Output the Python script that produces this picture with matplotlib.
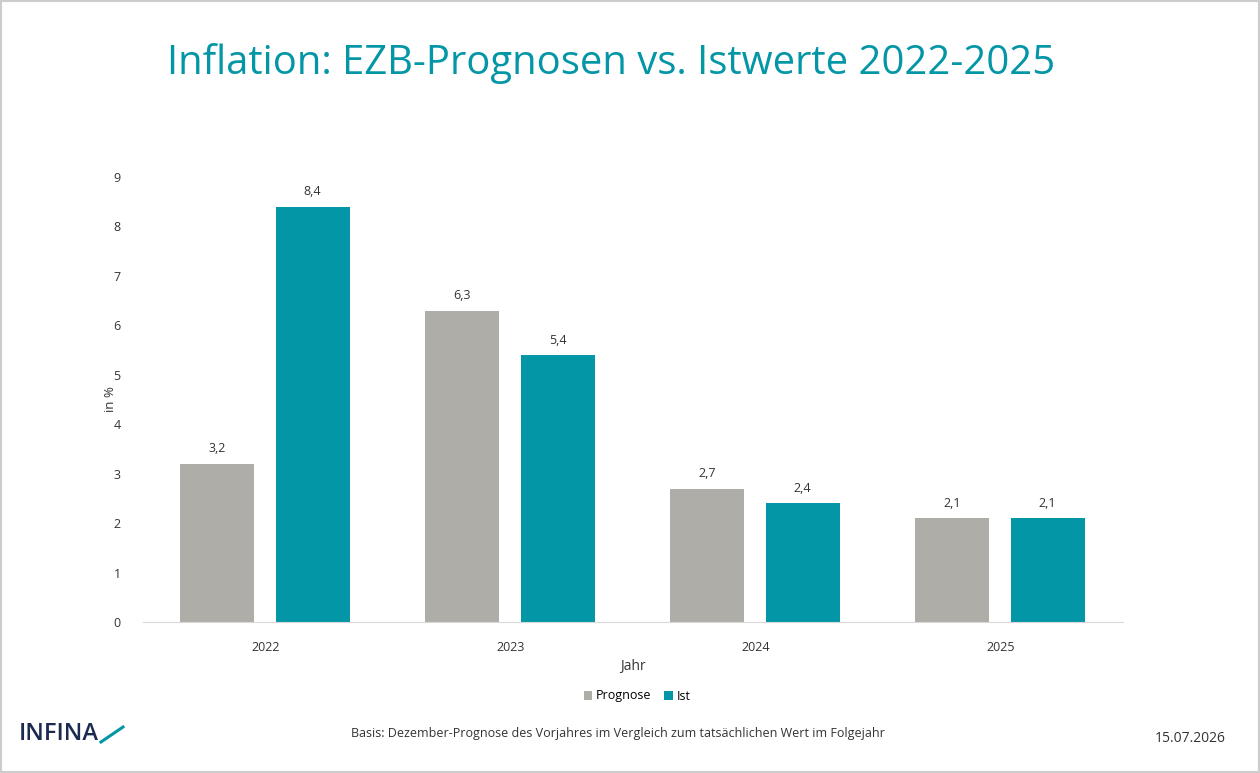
import numpy as np
import matplotlib.pyplot as plt
from matplotlib.patches import Rectangle

years = ["2022", "2023", "2024", "2025"]
prognose = [3.2, 6.3, 2.7, 2.1]
ist = [8.4, 5.4, 2.4, 2.1]

TEAL = "#0396a6"
GRAY = "#aeada8"
NAVY = "#1b2a4e"
plt.rcParams['font.family'] = ['Open Sans', 'DejaVu Sans']

fig = plt.figure(figsize=(12.6, 7.73), dpi=100)
W, H = 1260, 773
ax = fig.add_axes([143 / W, 1 - 622 / H, 980 / W, (622 - 177) / H])

x = np.arange(len(years))
w = 0.302
b1 = ax.bar(x - 0.196, prognose, w, color=GRAY, label="Prognose")
b2 = ax.bar(x + 0.192, ist, w, color=TEAL, label="Ist")
for bars in (b1, b2):
    for r in bars:
        ax.text(r.get_x() + r.get_width() / 2, r.get_height() + 0.17,
                f"{r.get_height():.1f}".replace(".", ","),
                ha="center", va="bottom", fontsize=9, color="#333333")

ax.set_xlim(-0.5, 3.5)
ax.set_ylim(0, 9)
ax.set_xticks(x)
ax.set_xticklabels(years)
ax.set_yticks(range(10))
ax.tick_params(length=0, labelsize=9, colors="#333333", pad=14)
ax.tick_params(axis="y", pad=16)
for s in ["top", "right", "left"]:
    ax.spines[s].set_visible(False)
ax.spines["bottom"].set_color("#d9d9d9")
ax.set_xlabel("Jahr", fontsize=10, color="#333333", labelpad=3)
ax.set_ylabel("in %", fontsize=9.5, color="#333333")
ax.yaxis.set_label_coords(-26 / 980, 0.5)

fig.legend(handles=[b1, b2], loc="center", bbox_to_anchor=(637 / W, 1 - 696 / H),
           ncol=2, frameon=False, fontsize=9, handlelength=0.7, handleheight=0.7,
           handletextpad=0.3, columnspacing=1.0)

fig.text(611 / W, 1 - 64 / H, "Inflation: EZB-Prognosen vs. Istwerte 2022-2025",
         ha="center", va="center", fontsize=28.8, color=TEAL)
fig.text(618 / W, 1 - 734 / H,
         "Basis: Dezember-Prognose des Vorjahres im Vergleich zum tatsächlichen Wert im Folgejahr",
         ha="center", va="center", fontsize=9, color="#333333")
fig.text(1190 / W, 1 - 738 / H, "15.07.2026", ha="center", va="center",
         fontsize=10, color="#333333")
fig.text(19 / W, 1 - 734 / H, "INFINA", ha="left", va="center", fontsize=17,
         color=NAVY, fontweight="semibold")
fig.add_artist(plt.Line2D([101 / W, 123 / W], [1 - 742 / H, 1 - 727 / H],
                          color=TEAL, lw=2.2, transform=fig.transFigure))

fig.add_artist(Rectangle((0.001, 0.001), 0.998, 0.998, transform=fig.transFigure,
                         fill=False, edgecolor="#cccccc", lw=1.5))

fig.savefig("out.png", dpi=100)
